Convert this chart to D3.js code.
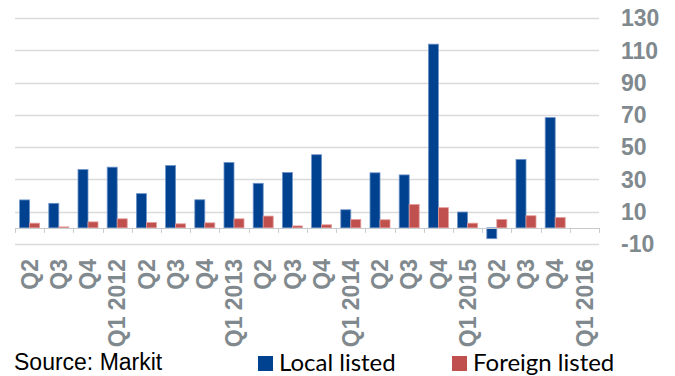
<!DOCTYPE html>
<html>
<head>
<meta charset="utf-8">
<script src="https://cdn.jsdelivr.net/npm/d3@7"></script>
<style>
  body { margin: 0; background: #fff; }
  svg { display: block; }
</style>
</head>
<body>
<div class="chart"></div>
<script>
const quarters = ["Q2", "Q3", "Q4", "Q1 2012", "Q2", "Q3", "Q4", "Q1 2013", "Q2", "Q3", "Q4",
                  "Q1 2014", "Q2", "Q3", "Q4", "Q1 2015", "Q2", "Q3", "Q4", "Q1 2016"];
const localListed = [17.3, 15.2, 36.1, 37.6, 21.2, 38.6, 17.4, 40.5, 27.6, 34.3, 45.3,
                     11.2, 34.1, 32.8, 113.8, 9.8, -6.7, 42.4, 68.3, null];
const foreignListed = [2.9, 0.6, 3.7, 5.6, 3.3, 2.5, 3.1, 5.6, 7.3, 1.2, 1.9,
                       5.2, 5.0, 14.5, 12.5, 2.9, 5.2, 7.5, 6.4, null];
const yTicks = [-10, 10, 30, 50, 70, 90, 110, 130];
const seriesNames = ["Local listed", "Foreign listed"];

const width = 675, height = 376;
const plot = {left: 15, right: 599, top: 18, bottom: 244};

const colors = ["#00428f", "#c0504d"],
      edges = ["#6f93c8", "#e39c9a"],
      grey = "#7f898e";

const svg = d3.select(".chart").append("svg")
    .attr("width", width)
    .attr("height", height);

const x = d3.scaleBand()
    .domain(d3.range(quarters.length))
    .range([plot.left, plot.right]);

// two bars per quarter, about 10px each
const x1 = d3.scaleBand()
    .domain([0, 1])
    .range([0, x.bandwidth()])
    .paddingOuter(0.46)
    .paddingInner(0);

const y = d3.scaleLinear()
    .domain([-10, 130])
    .range([plot.bottom, plot.top]);

// gridlines
svg.append("g")
    .attr("class", "grid")
    .selectAll("line")
    .data(yTicks)
    .enter().append("line")
    .attr("x1", plot.left)
    .attr("x2", plot.right)
    .attr("y1", d => Math.round(y(d)) + 0.5)
    .attr("y2", d => Math.round(y(d)) + 0.5)
    .style("stroke", "#d9dadb")
    .style("stroke-width", 1.5);

// y labels on the right
svg.append("g")
    .attr("class", "y axis")
    .selectAll("text")
    .data(yTicks)
    .enter().append("text")
    .attr("x", 621)
    .attr("y", d => y(d))
    .attr("dy", "0.36em")
    .text(d => d)
    .style("font-family", "'Liberation Sans', Arial, sans-serif")
    .style("font-weight", "bold")
    .style("font-size", "23px")
    .style("fill", grey);

// bars
const groups = svg.append("g")
    .attr("class", "bars")
    .selectAll("g")
    .data(quarters.map((q, i) => ({i: i, values: [localListed[i], foreignListed[i]]})))
    .enter().append("g")
    .attr("transform", d => "translate(" + x(d.i) + ",0)");

groups.selectAll("rect")
    .data(d => d.values.map((v, s) => ({s: s, v: v})).filter(e => e.v !== null))
    .enter().append("rect")
    .attr("x", d => x1(d.s))
    .attr("width", x1.bandwidth())
    .attr("y", d => y(Math.max(0, d.v)))
    .attr("height", d => Math.abs(y(d.v) - y(0)))
    .style("fill", d => colors[d.s])
    .style("stroke", d => edges[d.s])
    .style("stroke-width", 0.8);

// zero axis with tick marks between categories
const axis = svg.append("g").attr("class", "x axis");
axis.append("line")
    .attr("x1", plot.left)
    .attr("x2", plot.right)
    .attr("y1", Math.round(y(0)) + 0.5)
    .attr("y2", Math.round(y(0)) + 0.5)
    .style("stroke", "#c8cbcd")
    .style("stroke-width", 1.2);

axis.selectAll("line.tick")
    .data(d3.range(quarters.length + 1))
    .enter().append("line")
    .attr("class", "tick")
    .attr("x1", d => Math.round(plot.left + d * x.step()) + 0.5)
    .attr("x2", d => Math.round(plot.left + d * x.step()) + 0.5)
    .attr("y1", y(0))
    .attr("y2", y(0) + 5)
    .style("stroke", "#c8cbcd")
    .style("stroke-width", 1);

axis.selectAll("text")
    .data(quarters)
    .enter().append("text")
    .attr("transform", (d, i) => "translate(" + (x(i) + x.bandwidth() / 2) + ",259) rotate(-90)")
    .attr("dy", "0.36em")
    .style("text-anchor", "end")
    .text(d => d)
    .style("font-family", "'Liberation Sans', Arial, sans-serif")
    .style("font-weight", "bold")
    .style("font-size", "23px")
    .style("fill", grey);

// source + legend
svg.append("text")
    .attr("x", 14)
    .attr("y", 370)
    .text("Source: Markit")
    .style("font-family", "'Liberation Sans', Arial, sans-serif")
    .style("font-size", "23px")
    .style("fill", "#000");

const legendX = [258, 452];
const legend = svg.append("g")
    .attr("class", "legend")
    .selectAll("g")
    .data(seriesNames)
    .enter().append("g")
    .attr("transform", (d, i) => "translate(" + legendX[i] + ",356)");

legend.append("rect")
    .attr("width", 15)
    .attr("height", 15)
    .style("fill", (d, i) => colors[i]);

legend.append("text")
    .attr("x", 21)
    .attr("y", 14.5)
    .text(d => d)
    .style("font-family", "Lato, 'Open Sans', sans-serif")
    .style("font-size", "24px")
    .style("fill", "#000");
</script>
</body>
</html>
